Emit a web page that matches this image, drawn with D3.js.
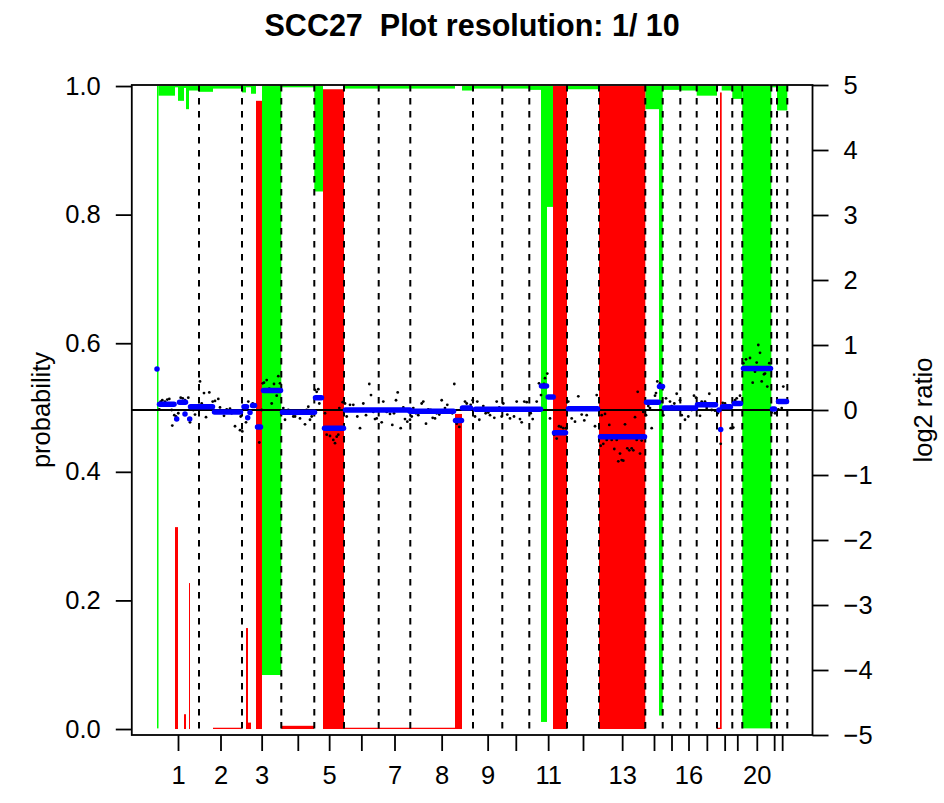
<!DOCTYPE html>
<html><head><meta charset="utf-8">
<script src="https://cdn.jsdelivr.net/npm/d3@7/dist/d3.min.js"></script>
<style>body{margin:0;background:#fff}svg{display:block}</style>
</head><body>
<svg id="chart" width="944" height="803"></svg>
<script>
// ---------------- data ----------------
const chromNames = ["1","2","3","4","5","6","7","8","9","10","11","12","13","14","15","16","17","18","19","20","21","22"];
const chromLengths = [420,430,393,330,297,347,316,627,293,270,377,320,463,174,176,164,203,153,100,290,57,103];
const shownLabels = ["1","2","3","5","7","8","9","11","13","16","20"];
const probTicks = [0,0.2,0.4,0.6,0.8,1.0];
const probTickLabels = ["0.0","0.2","0.4","0.6","0.8","1.0"];
const log2Ticks = [-5,-4,-3,-2,-1,0,1,2,3,4,5];
const log2TickLabels = ["\u22125","\u22124","\u22123","\u22122","\u22121","0","1","2","3","4","5"];
const titleText = "SCC27  Plot resolution: 1/ 10";

// probability of gain per region [start, end, p] (green, hangs from 1)
const gainProb = [
 [0,15,0.999],[15,180,0.015],[180,210,0.002],[210,270,0.023],[270,290,0.003],[290,320,0.036],
 [320,420,0.007],[420,560,0.009],[560,850,0.004],[850,890,0.010],[890,940,0.002],[940,990,0.012],
 [1050,1243,0.916],[1243,1573,0.002],[1573,1660,0.164],[1870,2980,0.004],[3050,3160,0.007],
 [3160,3720,0.004],[3720,3840,0.006],[3840,3900,0.989],[3900,3960,0.188],[4100,4420,0.005],
 [4883,5020,0.036],[5020,5057,0.979],[5057,5233,0.006],[5233,5397,0.007],[5397,5600,0.015],
 [5647,5753,0.007],[5753,5853,0.020],[5853,6143,0.999],[6143,6200,0.002],[6200,6303,0.038]
];
// probability of loss per region [start, end, p] (red, rises from 0)
const lossProb = [
 [180,210,0.314],[270,290,0.023],[320,330,0.227],[560,847,0.002],[890,910,0.157],[910,940,0.010],
 [990,1050,0.977],[1243,1570,0.005],[1660,1870,0.995],[1870,2980,0.002],[2980,3050,0.49],
 [3960,4100,1.0],[4420,4883,1.0],[5600,5630,0.002],[5630,5647,0.99]
];
// segmented log2 ratio [start, end, value]
const segments = [
 [0,0,0.63],[25,170,0.09],[197,197,-0.14],[225,285,0.12],[280,280,-0.06],[327,327,-0.14],
 [335,555,0.05],[575,835,-0.03],[870,895,0.05],[907,907,-0.12],[930,930,-0.04],[955,975,0.07],
 [1005,1035,-0.26],[1065,1235,0.30],[1255,1575,-0.035],[1585,1645,0.19],[1675,1865,-0.28],
 [1885,2530,0.0],[2530,2965,-0.02],[2985,3045,-0.16],[3055,3135,0.03],[3185,3835,0.01],
 [3845,3895,0.37],[3912,3962,0.20],[3975,4085,-0.35],[4115,4405,0.02],[4435,4875,-0.41],
 [4895,5015,0.12],[5025,5055,0.36],[5075,5385,0.03],[5405,5585,0.08],[5620,5620,0.0],
 [5637,5637,-0.30],[5655,5735,0.05],[5775,5835,0.10],[5865,6135,0.64],[6155,6175,0.015],[6215,6295,0.13]
];
// raw log2 ratios [position, value]
const log2Points = [
 [23,0.01],[37,0.13],[53,0.15],[80,0.13],[103,0.16],[123,0.17],[147,0.0],[153,-0.24],[173,-0.08],[190,-0.10],
 [213,-0.05],[237,0.19],[257,0.18],[280,0.15],[313,0.19],[330,-0.19],[363,0.0],[380,-0.07],[430,0.44],[447,0.10],
 [470,0.26],[490,-0.11],[523,0.27],[557,0.13],[580,0.14],[613,0.17],[630,0.04],[647,-0.03],[670,-0.09],[697,0.01],
 [730,0.02],[747,-0.05],[780,-0.25],[830,-0.31],[837,-0.10],[853,-0.33],[890,-0.19],[913,0.13],[957,0.10],[1023,-0.50],
 [1047,0.0],[1057,0.41],[1070,0.42],[1097,0.46],[1123,0.33],[1147,0.10],[1170,0.40],[1197,0.22],[1213,0.52],[1230,0.41],
 [1263,0.03],[1280,-0.15],[1313,0.0],[1330,-0.01],[1363,-0.10],[1380,-0.10],[1397,-0.06],[1430,-0.13],[1447,-0.05],[1480,-0.22],
 [1497,0.0],[1513,0.05],[1530,-0.15],[1547,-0.10],[1580,0.31],[1597,0.28],[1613,0.32],[1623,0.10],[1680,-0.05],[1697,-0.38],
 [1730,-0.40],[1763,-0.46],[1780,-0.51],[1797,-0.41],[1813,-0.38],[1823,0.03],[1857,0.12],[1880,0.10],[1897,-0.10],[1930,0.08],
 [1963,0.08],[2003,-0.10],[2030,-0.28],[2063,0.10],[2090,-0.08],[2123,0.40],[2140,0.23],[2163,-0.03],[2180,-0.14],[2197,-0.13],
 [2223,0.0],[2247,-0.19],[2263,0.13],[2297,-0.03],[2330,-0.06],[2353,-0.23],[2370,-0.05],[2390,0.15],[2407,0.27],[2437,-0.28],
 [2463,0.04],[2480,-0.14],[2503,-0.18],[2530,-0.15],[2547,-0.10],[2563,0.03],[2590,-0.05],[2613,-0.08],[2647,0.10],[2663,0.13],
 [2690,-0.21],[2713,0.01],[2737,0.0],[2757,-0.12],[2780,-0.13],[2797,-0.05],[2823,-0.07],[2847,0.15],[2880,0.03],[2903,0.08],
 [2930,-0.01],[2953,-0.05],[2973,0.40],[2997,-0.21],[3023,-0.26],[3080,0.13],[3097,0.10],[3137,0.08],[3157,0.15],[3180,-0.10],
 [3203,0.13],[3223,-0.15],[3247,0.0],[3263,0.06],[3287,-0.05],[3313,-0.04],[3330,-0.08],[3357,0.0],[3373,-0.12],[3397,0.13],
 [3423,0.04],[3447,-0.10],[3463,0.10],[3480,-0.01],[3503,-0.07],[3530,-0.13],[3553,0.01],[3570,-0.10],[3597,0.13],[3630,-0.14],
 [3647,-0.19],[3673,0.13],[3697,0.12],[3737,-0.05],[3757,-0.14],[3797,0.13],[3820,0.41],[3840,0.23],[3870,0.40],[3880,0.49],
 [3903,0.56],[3930,-0.13],[3970,-0.38],[3997,-0.44],[4020,-0.25],[4040,-0.26],[4063,-0.28],[4090,-0.28],[4113,0.13],[4147,-0.13],
 [4180,-0.18],[4213,0.21],[4247,-0.07],[4273,-0.16],[4297,-0.08],[4330,0.01],[4363,0.04],[4380,-0.25],[4397,0.23],[4437,-0.55],
 [4447,-0.08],[4463,-0.52],[4480,-0.06],[4497,-0.46],[4523,-0.23],[4547,-0.46],[4573,-0.60],[4597,-0.46],[4613,-0.79],[4630,-0.67],
 [4647,-0.77],[4663,-0.78],[4680,-0.22],[4703,-0.59],[4723,-0.62],[4747,-0.59],[4763,-0.62],[4780,-0.11],[4797,-0.46],[4807,0.28],
 [4830,-0.67],[4847,-0.47],[4863,-0.03],[4890,-0.08],[4913,0.06],[4930,0.03],[4947,-0.28],[4980,0.22],[4990,0.26],[5003,0.44],
 [5030,0.41],[5047,0.13],[5063,-0.08],[5090,0.18],[5130,0.13],[5147,0.06],[5173,0.10],[5197,0.25],[5230,0.15],[5247,-0.08],
 [5263,0.04],[5280,-0.15],[5313,-0.10],[5347,0.0],[5370,0.22],[5390,0.19],[5430,-0.09],[5447,0.13],[5480,0.13],[5497,0.03],
 [5523,0.25],[5547,0.0],[5580,-0.01],[5607,-0.05],[5637,-0.52],[5657,0.11],[5680,0.10],[5697,0.03],[5723,0.06],[5737,-0.28],
 [5763,-0.27],[5780,0.15],[5797,0.18],[5830,0.22],[5863,0.72],[5890,0.78],[5930,0.80],[5957,0.42],[5980,0.59],[5997,0.73],
 [6013,1.0],[6030,0.88],[6047,0.44],[6070,0.55],[6080,0.56],[6103,0.36],[6123,0.72],[6147,-0.04],[6180,-0.05],[6213,0.01],
 [6247,0.03],[6263,0.36]
];

// ---------------- layout ----------------
const svg = d3.select("#chart");
const font = "'Liberation Sans', Arial, Helvetica, sans-serif";
const total = d3.sum(chromLengths);
const starts = chromLengths.map((d,i)=>d3.sum(chromLengths.slice(0,i)));
const ends = starts.map((s,i)=>s+chromLengths[i]);
const mids = starts.map((s,i)=>s+chromLengths[i]/2);

const x = d3.scaleLinear().domain([0,total]).range([157,787.3]);
const boxL = x(-0.04*total), boxR = x(1.04*total), boxT = 85, boxB = 735;
const yP = d3.scaleLinear().domain([-0.0093,1.0016]).range([boxB,boxT]);
const yL = d3.scaleLinear().domain([-5,5]).range([boxB,boxT]);

const plot = svg.append("g");

// gain (green) bars
plot.selectAll("rect.gain").data(gainProb).join("rect")
  .attr("class","gain")
  .attr("x",d=>x(d[0])).attr("width",d=>Math.max(1,x(d[1])-x(d[0])))
  .attr("y",yP(1)).attr("height",d=>Math.max(0.8,yP(1-d[2])-yP(1)))
  .attr("fill","#00ff00");
// loss (red) bars
plot.selectAll("rect.loss").data(lossProb).join("rect")
  .attr("class","loss")
  .attr("x",d=>x(d[0])).attr("width",d=>Math.max(1,x(d[1])-x(d[0])))
  .attr("y",d=>yP(d[2])).attr("height",d=>Math.max(0.8,yP(0)-yP(d[2])))
  .attr("fill","#ff0000");

// chromosome boundaries
plot.selectAll("line.chr").data(ends).join("line")
  .attr("x1",d=>x(d)).attr("x2",d=>x(d)).attr("y1",boxT).attr("y2",boxB)
  .attr("stroke","#000").attr("stroke-width",2).attr("stroke-dasharray","6.5,6.5");

// zero line
plot.append("line").attr("x1",boxL).attr("x2",boxR).attr("y1",yL(0)).attr("y2",yL(0))
  .attr("stroke","#000").attr("stroke-width",1.8);

// raw points
plot.selectAll("circle.pt").data(log2Points).join("circle")
  .attr("cx",d=>x(d[0])).attr("cy",d=>yL(d[1])).attr("r",1.4).attr("fill","#000");

// segments
plot.selectAll("line.seg").data(segments).join("line")
  .attr("x1",d=>x(d[0])).attr("x2",d=>x(d[1])).attr("y1",d=>yL(d[2])).attr("y2",d=>yL(d[2]))
  .attr("stroke","#0000ff").attr("stroke-width",5.5).attr("stroke-linecap","round");

// box
svg.append("rect").attr("x",boxL).attr("y",boxT).attr("width",boxR-boxL).attr("height",boxB-boxT)
  .attr("fill","none").attr("stroke","#000").attr("stroke-width",1.8);

// axes
const fs = 25.5;
function styleAxis(g){
  g.select(".domain").remove();
  g.selectAll(".tick line").attr("stroke","#000").attr("stroke-width",1.8);
  g.selectAll("text").attr("font-family",font).attr("font-size",fs).attr("fill","#000");
}
svg.append("g").attr("transform",`translate(${boxL},0)`)
  .call(d3.axisLeft(yP).tickValues(probTicks).tickFormat((d,i)=>probTickLabels[i]).tickSize(16).tickPadding(15))
  .call(styleAxis);
svg.append("g").attr("transform",`translate(${boxR},0)`)
  .call(d3.axisRight(yL).tickValues(log2Ticks).tickFormat((d,i)=>log2TickLabels[i]).tickSize(16).tickPadding(15))
  .call(styleAxis);
svg.append("g").attr("transform",`translate(0,${boxB})`)
  .call(d3.axisBottom(x).tickValues(mids).tickFormat((d,i)=>shownLabels.includes(chromNames[i])?chromNames[i]:"").tickSize(16).tickPadding(15))
  .call(styleAxis);

// titles
svg.append("text").attr("x",(boxL+boxR)/2).attr("y",36).attr("text-anchor","middle")
  .attr("font-family",font).attr("font-weight","bold").attr("font-size",30.5)
  .style("white-space","pre").text(titleText);
svg.append("text").attr("transform","translate(41,410) rotate(-90)").attr("text-anchor","middle")
  .attr("dy","0.35em").attr("font-family",font).attr("font-size",fs).text("probability");
svg.append("text").attr("transform","translate(923,410) rotate(-90)").attr("text-anchor","middle")
  .attr("dy","0.35em").attr("font-family",font).attr("font-size",fs).text("log2 ratio");
</script>
</body></html>
